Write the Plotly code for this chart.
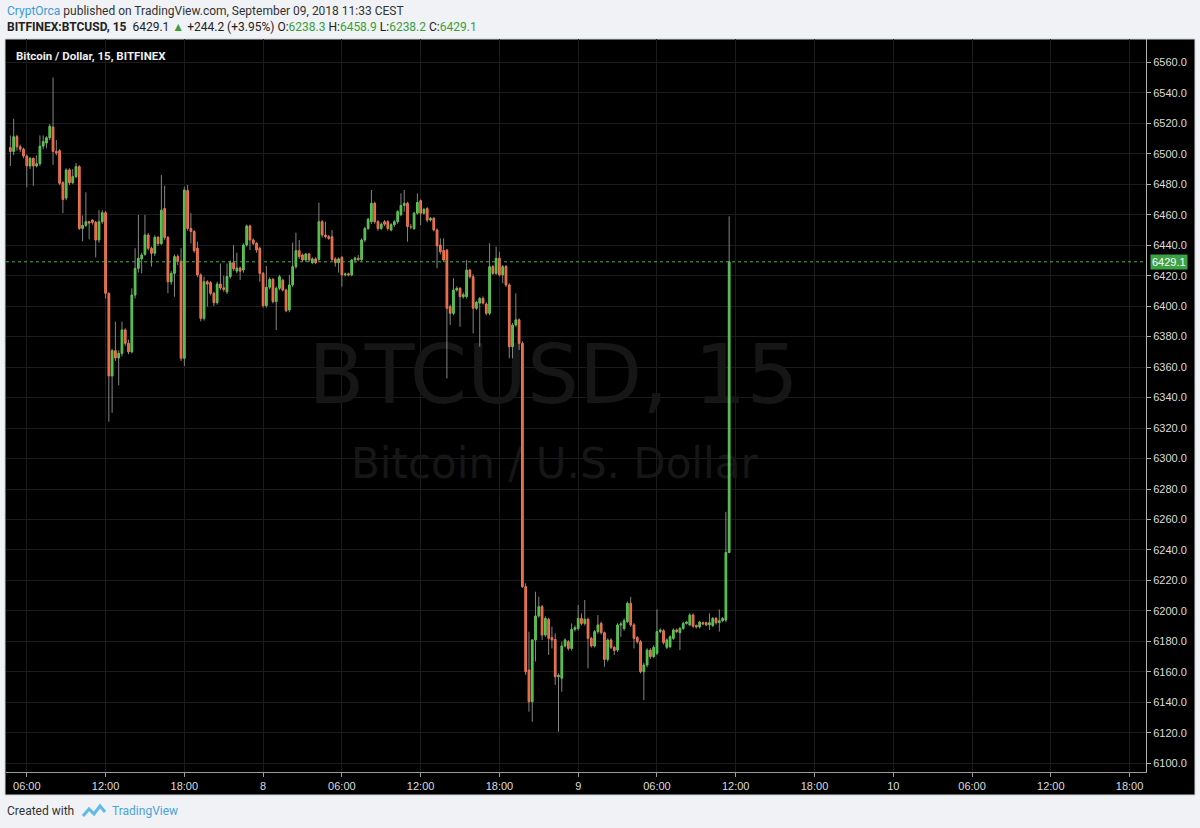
import plotly.graph_objects as go
import pandas as pd

# ---------------- data (15-minute candles, BITFINEX BTCUSD) ----------------
OPEN = [6504, 6501.5, 6511.2, 6504.6, 6503, 6498.5, 6492, 6497, 6492, 6493.5,
        6505, 6507, 6510.5, 6517.5, 6501.5, 6502, 6481, 6471, 6489.4, 6481,
        6485, 6491.5, 6451, 6453, 6455.4, 6456.5, 6455, 6443.4, 6455.4, 6461.3,
        6408.4, 6354.2, 6370.8, 6366, 6369, 6384.4, 6375.6, 6370, 6407.3, 6424.8,
        6431, 6434, 6446.7, 6438, 6434.7, 6445.2, 6441, 6464, 6445, 6416,
        6421.5, 6432.5, 6429.5, 6365.8, 6475.8, 6451, 6449, 6438, 6420.5, 6392,
        6416, 6415.4, 6408.4, 6402.3, 6414.5, 6412, 6409.4, 6419.4, 6428.5, 6423,
        6425, 6423.7, 6440.1, 6452.6, 6443.4, 6441.2, 6438, 6421.5, 6400.3, 6412.4,
        6417.6, 6403, 6411.7, 6417, 6410.6, 6397.5, 6413.9, 6425.9, 6436.4, 6433.6,
        6430.3, 6434.2, 6428.5, 6431, 6430.7, 6455.4, 6446.7, 6445.6, 6445.6, 6431,
        6428.5, 6432, 6420.5, 6421.2, 6420.5, 6430.3, 6431.5, 6430.5, 6443.4, 6451,
        6455.4, 6467.5, 6455.4, 6451, 6455.4, 6455.4, 6450, 6453.4, 6455.4, 6460,
        6466, 6467.5, 6452.2, 6451, 6461, 6469.2, 6461, 6464, 6456.5, 6457.6,
        6450, 6440, 6436.5, 6436.8, 6399.7, 6395.3, 6410.6, 6411.7, 6406.2, 6406.2,
        6423.7, 6419.3, 6398.6, 6402, 6405, 6401.4, 6395.3, 6425.9, 6421.5, 6431.4,
        6420.5, 6426, 6413.9, 6373.4, 6387.6, 6391, 6375.6, 6215.9, 6161.2, 6140.4,
        6180.9, 6196.7, 6202.8, 6184.2, 6194.5, 6182.6, 6181.3, 6156.8, 6155.8, 6177,
        6179.8, 6175.4, 6187.9, 6188.4, 6195.1, 6191.8, 6194.5, 6182, 6177, 6186.4,
        6191.8, 6185.7, 6168.2, 6180.9, 6176.1, 6174.3, 6190.8, 6188.4, 6193, 6205,
        6190.8, 6182.6, 6179.8, 6160.1, 6164.5, 6174.3, 6170, 6172.2, 6186.4, 6187,
        6176.1, 6176.5, 6182, 6187.5, 6185.7, 6188.5, 6191.8, 6190.8, 6197.3, 6190.5,
        6189.5, 6192.3, 6192.3, 6190.8, 6190.4, 6195.1, 6192.3, 6193.6, 6194, 6238.3]
HIGH = [6512, 6523, 6512.5, 6506, 6504, 6499.5, 6498, 6497.5, 6499, 6512,
        6512, 6511.5, 6519.5, 6550, 6509, 6503, 6482, 6490.5, 6490.5, 6490,
        6494, 6492.5, 6459.5, 6474.7, 6456, 6457, 6456, 6463, 6463, 6462.5,
        6409, 6372, 6389.8, 6371, 6389.8, 6385.5, 6378, 6411.7, 6438, 6459.8,
        6435, 6459.8, 6448, 6439, 6446.5, 6446, 6486, 6479, 6446, 6423,
        6434, 6434, 6438, 6478.4, 6479.5, 6461, 6450, 6442.3, 6421.5, 6419.3,
        6417, 6416.5, 6409.5, 6416, 6428, 6420, 6428, 6430, 6440.1, 6435.1,
        6426, 6441.2, 6453.5, 6453.5, 6444.5, 6442, 6439, 6422.5, 6426.3, 6419,
        6418.5, 6413, 6420.5, 6418, 6411.5, 6420.4, 6441.7, 6448.2, 6443.4, 6434.5,
        6435, 6435, 6432, 6432, 6467.9, 6456.5, 6455.5, 6446.7, 6450, 6432,
        6432, 6433, 6422, 6422, 6431, 6432.5, 6433.5, 6444.5, 6452, 6458,
        6476.2, 6468.5, 6456.5, 6455, 6456.5, 6456.5, 6454.5, 6456.5, 6463, 6474,
        6476.2, 6468.5, 6454, 6462, 6474, 6470, 6464.5, 6465, 6458.5, 6458.5,
        6451, 6444.5, 6444.5, 6437.5, 6401, 6418.3, 6413, 6412.5, 6409, 6430.3,
        6424.5, 6421, 6403.5, 6406, 6406.4, 6402.5, 6441.2, 6427, 6439, 6435.7,
        6427, 6427, 6415, 6389, 6408.4, 6392, 6377, 6218.1, 6186.4, 6181.5,
        6212.6, 6209.3, 6204, 6196.5, 6195.5, 6189.7, 6185.3, 6159, 6179.8, 6182,
        6181, 6191.8, 6190.5, 6203.9, 6198.4, 6207.2, 6195.5, 6183, 6187.5, 6197.3,
        6193, 6186.5, 6182, 6182, 6177, 6192, 6193, 6195.1, 6206.1, 6209.3,
        6192, 6183.5, 6181, 6166, 6175.5, 6175.5, 6177.5, 6201, 6188.5, 6188,
        6182, 6184, 6188.5, 6188.5, 6189.5, 6193, 6193.5, 6198.5, 6198.4, 6191,
        6193.5, 6193, 6193, 6198.4, 6196, 6196, 6201, 6196, 6265, 6458.9]
LOW = [6492, 6499, 6502, 6501, 6497, 6478, 6490, 6479, 6491, 6492,
       6503, 6503.5, 6509, 6492.6, 6499, 6479.5, 6461, 6469.5, 6479.5, 6480,
       6484, 6450, 6442.5, 6452, 6443.8, 6453.5, 6432, 6441.5, 6454, 6405,
       6324.2, 6330, 6364, 6348, 6367, 6374, 6368.5, 6369, 6405, 6422,
       6421.5, 6433, 6436.5, 6426, 6433, 6439.5, 6440, 6443.5, 6408.4, 6414,
       6406.2, 6427, 6364, 6360.7, 6449.5, 6441.2, 6435, 6419, 6390, 6390.5,
       6399.7, 6407, 6400, 6401, 6410.5, 6409.5, 6408, 6418, 6423, 6421.5,
       6417.2, 6422, 6439, 6436.8, 6440, 6435, 6416, 6399, 6399, 6411,
       6401.8, 6384.3, 6410.5, 6409.5, 6396, 6396, 6412.5, 6424.5, 6431, 6429,
       6429, 6429, 6427.5, 6427.5, 6429.5, 6445, 6444.5, 6443.5, 6429.5, 6425.9,
       6422, 6412.8, 6419.5, 6419.5, 6419.5, 6428.5, 6429.5, 6429.5, 6442, 6450,
       6454, 6454, 6449.5, 6450, 6452.5, 6449.5, 6449, 6452, 6454, 6459,
       6462, 6442.3, 6450.5, 6450, 6460, 6453.2, 6460, 6455, 6455.5, 6449,
       6424.8, 6434, 6429, 6352.5, 6387.6, 6394, 6409.5, 6386.5, 6405, 6405,
       6418, 6382.2, 6397.5, 6373.4, 6401, 6394, 6394, 6420.5, 6420.5, 6419.5,
       6415, 6412.5, 6365.8, 6365.8, 6386.5, 6371.2, 6215, 6158, 6133.9, 6127.3,
       6166.7, 6195.5, 6180.9, 6183, 6171.1, 6175.4, 6151.4, 6120.8, 6147, 6176,
       6174, 6174, 6186.5, 6187, 6190.5, 6190.5, 6162.3, 6176, 6176, 6185,
       6184.5, 6163.4, 6166.7, 6175, 6171.1, 6173, 6183, 6187, 6192, 6189.5,
       6175.4, 6178.5, 6159, 6141.5, 6163, 6168.5, 6169, 6171, 6185.5, 6178,
       6175, 6175.5, 6181, 6185.5, 6174.3, 6187.5, 6191, 6190, 6189, 6188.5,
       6188.5, 6190.5, 6190, 6187.5, 6189.5, 6191, 6186.4, 6192.5, 6192.5, 6238.2]
CLOSE = [6501.5, 6511.2, 6504.6, 6503, 6498.5, 6492, 6497, 6492, 6493.5, 6505,
         6508, 6510.5, 6518, 6501.5, 6500.5, 6480.6, 6470, 6489.4, 6481, 6485,
         6491.5, 6451, 6453, 6455.4, 6454.5, 6455, 6443.4, 6455.4, 6461.3, 6408.4,
         6354.2, 6370.8, 6366, 6369, 6384.4, 6375.6, 6370, 6407.3, 6424.8, 6431.4,
         6433.6, 6446.7, 6438, 6434.7, 6445.2, 6441, 6463, 6445, 6416, 6421.5,
         6432.5, 6429.5, 6365.8, 6476.2, 6451, 6449, 6436.4, 6420.5, 6392, 6416,
         6414.5, 6408.4, 6402.3, 6414.5, 6412, 6411, 6419.4, 6428.5, 6424.5, 6425,
         6423, 6440.1, 6452.6, 6443.4, 6441.2, 6436.8, 6421.5, 6400.3, 6412.4, 6417.6,
         6403, 6411.7, 6419.3, 6410.6, 6397, 6413.9, 6425.9, 6436.4, 6432.5, 6430.3,
         6434.2, 6430.3, 6431, 6428.5, 6455.4, 6446.7, 6445.6, 6444.5, 6430.7, 6428.5,
         6431, 6420.5, 6421.2, 6420.5, 6430.3, 6431.5, 6430.5, 6443.4, 6451, 6457,
         6467.5, 6455.4, 6451, 6453.8, 6453.8, 6451, 6453.4, 6455.4, 6462, 6466,
         6467.5, 6452.2, 6452, 6461, 6468, 6461, 6463.5, 6456.5, 6457.6, 6450,
         6439.5, 6435.7, 6430.3, 6398.6, 6395.3, 6410.6, 6411.7, 6406.2, 6407.5, 6423.7,
         6419.3, 6398.6, 6402.5, 6405, 6402, 6395.3, 6425.9, 6421.5, 6431.4, 6420.5,
         6425.9, 6413.9, 6373.4, 6387.6, 6391, 6375.6, 6215.9, 6160.1, 6140.4, 6180.9,
         6196.7, 6202.8, 6184.2, 6195.1, 6182, 6180.9, 6156.8, 6157.8, 6177, 6180.9,
         6175.4, 6187.9, 6189, 6195.1, 6191.8, 6194.5, 6182, 6177, 6186.4, 6190.8,
         6185.7, 6168.2, 6180.9, 6176.1, 6174, 6190.8, 6191.5, 6193.6, 6205, 6190.8,
         6182, 6179.8, 6160.1, 6164.5, 6174.3, 6170, 6176.1, 6186.4, 6187.5, 6179.2,
         6181, 6183, 6187.5, 6186.4, 6188.5, 6191.8, 6192.7, 6197.3, 6190, 6189.5,
         6192.7, 6191.4, 6190.8, 6192.3, 6195.1, 6192.3, 6193.6, 6195.1, 6238.3, 6429.1]

LAST_BAR = "2018-09-09 11:30"
LAST_PRICE = 6429.1
Y_TICKS = [6100 + 20 * k for k in range(24)]
X_TICKVALS = pd.date_range("2018-09-07 06:00", "2018-09-10 18:00", freq="6h")
X_TICKTEXT = ["06:00", "12:00", "18:00", "8", "06:00", "12:00", "18:00", "9",
              "06:00", "12:00", "18:00", "10", "06:00", "12:00", "18:00"]

TIMES = pd.date_range(end=LAST_BAR, periods=len(OPEN), freq="15min")

# ---------------- geometry helpers (pixel -> paper) ----------------
W, H = 1200, 828
L_M, R_M, T_M, B_M = 6, 54, 39, 56
PW, PH = W - L_M - R_M, H - T_M - B_M


def px(x):
    return (x - L_M) / PW


def py(y):
    return (H - B_M - y) / PH


fig = go.Figure()

# watermark (behind candles)
fig.add_trace(go.Scatter(
    x=[pd.Timestamp("2018-09-08 22:07"), pd.Timestamp("2018-09-08 22:11")],
    y=[6350, 6294],
    mode="text",
    text=["BTCUSD, 15", "Bitcoin / U.S. Dollar"],
    textfont=dict(family="DejaVu Sans", size=[82, 42], color="#161616"),
    hoverinfo="skip", showlegend=False))

# wicks
wx, wy = [], []
for t, lo, hi in zip(TIMES, LOW, HIGH):
    wx += [t, t, None]
    wy += [lo, hi, None]
fig.add_trace(go.Scatter(x=wx, y=wy, mode="lines",
                         line=dict(color="#858585", width=1),
                         hoverinfo="skip", showlegend=False))

# bodies (rectangles open..close, drawn on the date axis)
HALF = pd.Timedelta(minutes=4)


def bodies(up):
    bx, by = [], []
    for t, o, c in zip(TIMES, OPEN, CLOSE):
        if (c >= o) != up:
            continue
        lo, hi = min(o, c), max(o, c)
        bx += [t - HALF, t + HALF, t + HALF, t - HALF, t - HALF, None]
        by += [lo, lo, hi, hi, lo, None]
    return bx, by


ux, uy = bodies(True)
dx, dy = bodies(False)
fig.add_trace(go.Scatter(x=ux, y=uy, mode="lines", fill="toself",
                         fillcolor="#4fbb48", line=dict(color="#5fc657", width=1),
                         hoverinfo="skip", showlegend=False))
fig.add_trace(go.Scatter(x=dx, y=dy, mode="lines", fill="toself",
                         fillcolor="#e8603e", line=dict(color="#f07856", width=1),
                         hoverinfo="skip", showlegend=False))

x_lo = pd.Timestamp("2018-09-07 04:25")
x_hi = pd.Timestamp("2018-09-10 19:15")

fig.update_layout(
    width=W, height=H,
    margin=dict(l=L_M, r=R_M, t=T_M, b=B_M, pad=0),
    paper_bgcolor="#f0f2f5",
    plot_bgcolor="#000000",
    showlegend=False,
    xaxis=dict(
        range=[x_lo, x_hi],
        tickvals=list(X_TICKVALS), ticktext=X_TICKTEXT,
        showgrid=True, gridcolor="#1b1b1b", gridwidth=1,
        showline=True, linecolor="#9a9a9a", linewidth=1,
        ticks="outside", ticklen=4, tickcolor="#9a9a9a",
        tickfont=dict(family="Liberation Sans", size=11, color="#dcdcdc"),
        zeroline=False, fixedrange=True),
    yaxis=dict(
        range=[6094.3, 6575.3], side="right",
        tickvals=Y_TICKS, tickformat=".1f",
        showgrid=True, gridcolor="#1b1b1b", gridwidth=1,
        showline=True, linecolor="#b0b0b0", linewidth=1,
        ticks="outside", ticklen=4, tickcolor="#b0b0b0",
        tickfont=dict(family="Liberation Sans", size=11, color="#dcdcdc"),
        zeroline=False, fixedrange=True),
)

shapes = [
    # black chart panel behind everything
    dict(type="rect", xref="paper", yref="paper", layer="below",
         x0=px(5), x1=px(1195), y0=py(795), y1=py(39),
         fillcolor="#000000", line=dict(color="#cfd3d8", width=1)),
    # last price dotted line
    dict(type="line", xref="paper", yref="y", x0=0, x1=1,
         y0=LAST_PRICE, y1=LAST_PRICE,
         line=dict(color="#4caf50", width=1, dash="dot")),
    # TradingView logo (footer)
    dict(type="path", xref="paper", yref="paper",
         path="M {},{} L {},{} L {},{} L {},{} L {},{}".format(
             px(83), py(816), px(89), py(809), px(94), py(814),
             px(100), py(806), px(105), py(812)),
         line=dict(color="#62b8e8", width=3)),
]
fig.update_layout(shapes=shapes)

GREEN = "#3a9f3a"
header2 = ("<b>BITFINEX:BTCUSD, 15</b>  6429.1 "
           f"<span style='color:{GREEN}'>▲</span> +244.2 (+3.95%) "
           f"O:<span style='color:{GREEN}'>6238.3</span> "
           f"H:<span style='color:{GREEN}'>6458.9</span> "
           f"L:<span style='color:{GREEN}'>6238.2</span> "
           f"C:<span style='color:{GREEN}'>6429.1</span>")

HFONT = "Roboto"
annotations = [
    dict(xref="paper", yref="paper", x=px(5), y=py(11), xanchor="left", yanchor="middle",
         showarrow=False,
         text="<span style='color:#3d9ad9'>CryptOrca</span> published on TradingView.com, "
              "September 09, 2018 11:33 CEST",
         font=dict(family=HFONT, size=12, color="#333333")),
    dict(xref="paper", yref="paper", x=px(5), y=py(27), xanchor="left", yanchor="middle",
         showarrow=False, text=header2,
         font=dict(family=HFONT, size=12, color="#222222")),
    dict(xref="paper", yref="paper", x=px(14), y=py(56), xanchor="left", yanchor="middle",
         showarrow=False, text="<b>Bitcoin / Dollar, 15, BITFINEX</b>",
         font=dict(family=HFONT, size=11.5, color="#eeeeee")),
    dict(xref="paper", yref="y", x=1, y=LAST_PRICE, xanchor="left", yanchor="middle",
         xshift=4, showarrow=False, text="6429.1", bgcolor="#3da243", borderpad=1,
         font=dict(family="Liberation Sans", size=11, color="#ffffff")),
    dict(xref="paper", yref="paper", x=px(5), y=py(811), xanchor="left", yanchor="middle",
         showarrow=False, text="Created with",
         font=dict(family=HFONT, size=12, color="#333333")),
    dict(xref="paper", yref="paper", x=px(110), y=py(811), xanchor="left", yanchor="middle",
         showarrow=False, text="TradingView",
         font=dict(family=HFONT, size=12, color="#4aa3db")),
]
fig.update_layout(annotations=annotations)

fig.write_html("out.html",
               config={"displayModeBar": False},
               post_script="document.body.style.margin='0';"
                           "document.body.style.overflow='hidden';")
